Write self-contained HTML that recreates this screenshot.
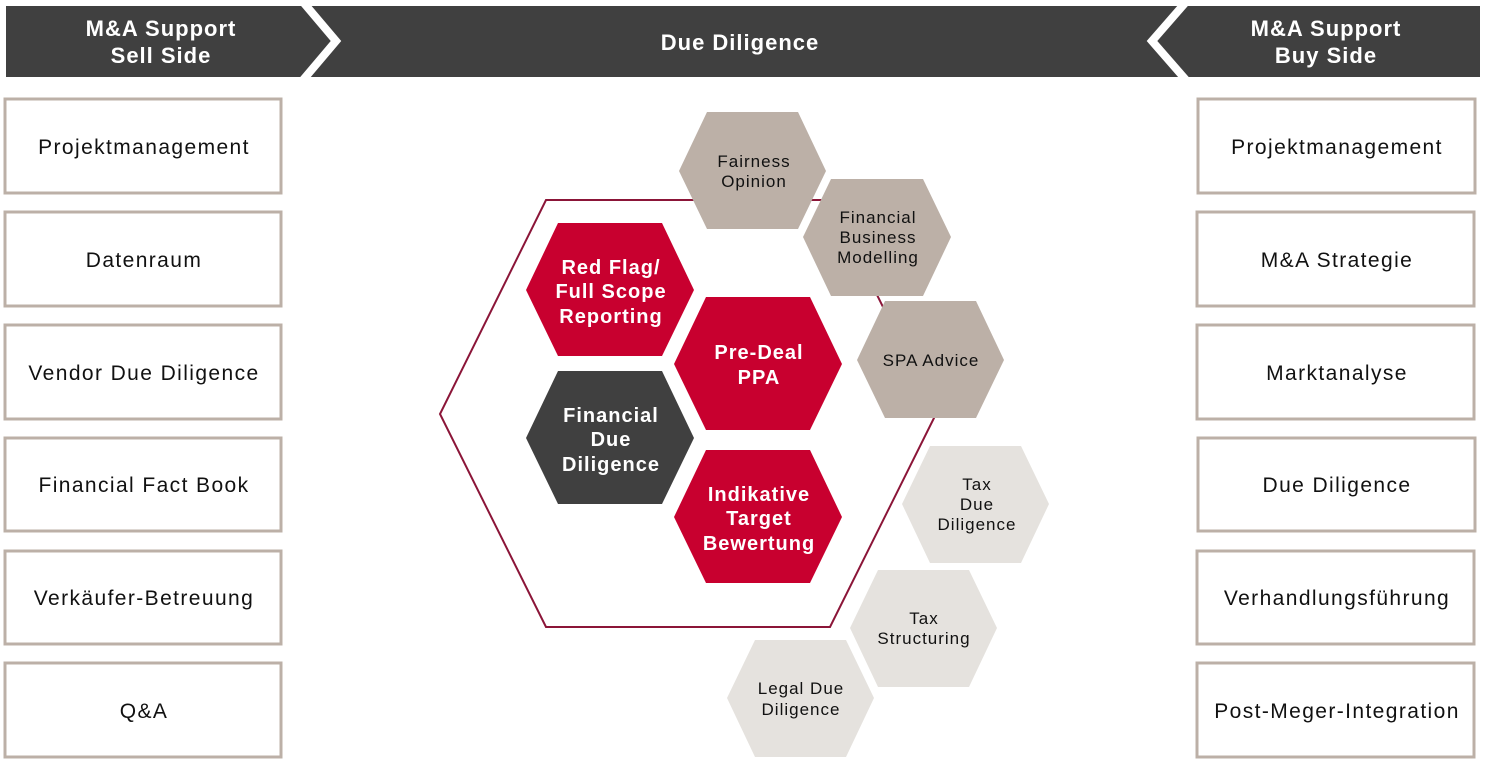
<!DOCTYPE html>
<html><head><meta charset="utf-8"><style>
html,body{margin:0;padding:0;background:#fff;}
svg{display:block;font-family:"Liberation Sans",sans-serif;}
</style></head><body>
<svg width="1486" height="759" viewBox="0 0 1486 759" xmlns="http://www.w3.org/2000/svg">
<rect x="6" y="6" width="1474" height="71" fill="#404040"/>
<polyline points="303,2 336,41 303,80" fill="none" stroke="#fff" stroke-width="8"/>
<polyline points="1186,2 1152,41 1186,80" fill="none" stroke="#fff" stroke-width="8"/>
<g fill="#fff" font-size="22" font-weight="bold" text-anchor="middle" letter-spacing="1">
<text x="161" y="36">M&amp;A Support</text><text x="161" y="63">Sell Side</text>
<text x="740" y="50">Due Diligence</text>
<text x="1326" y="36">M&amp;A Support</text><text x="1326" y="63">Buy Side</text>
</g>
<g fill="#fff" stroke="#bcb0a7" stroke-width="3">
<rect x="5" y="99" width="276" height="94"/>
<rect x="5" y="212" width="276" height="94"/>
<rect x="5" y="325" width="276" height="94"/>
<rect x="5" y="438" width="276" height="93"/>
<rect x="5" y="551" width="276" height="93"/>
<rect x="5" y="663" width="276" height="94"/>
<rect x="1198" y="99" width="277" height="94"/>
<rect x="1197" y="212" width="277" height="94"/>
<rect x="1197" y="325" width="277" height="94"/>
<rect x="1198" y="438" width="277" height="93"/>
<rect x="1197" y="551" width="277" height="93"/>
<rect x="1197" y="663" width="277" height="94"/>
</g>
<g fill="#111" font-size="21" text-anchor="middle" letter-spacing="1.4">
<text x="144" y="154">Projektmanagement</text>
<text x="144" y="267">Datenraum</text>
<text x="144" y="380">Vendor Due Diligence</text>
<text x="144" y="492">Financial Fact Book</text>
<text x="144" y="605">Verkäufer-Betreuung</text>
<text x="144" y="718">Q&amp;A</text>
<text x="1337" y="154">Projektmanagement</text>
<text x="1337" y="267">M&amp;A Strategie</text>
<text x="1337" y="380">Marktanalyse</text>
<text x="1337" y="492">Due Diligence</text>
<text x="1337" y="605">Verhandlungsführung</text>
<text x="1337" y="718">Post-Meger-Integration</text>
</g>
<polygon points="546,200 830,200 936,414 830,627 546,627 440,414" fill="none" stroke="#8b1538" stroke-width="2"/>
<g>
<polygon points="526,290 558,223 662,223 694,290 662,356 558,356" fill="#c8002f"/>
<polygon points="674,364 706,297 810,297 842,364 810,430 706,430" fill="#c8002f"/>
<polygon points="526,438 558,371 662,371 694,438 662,504 558,504" fill="#404040"/>
<polygon points="674,517 706,450 810,450 842,517 810,583 706,583" fill="#c8002f"/>
</g>
<g fill="#fff" font-size="20" font-weight="bold" text-anchor="middle" letter-spacing="1">
<text x="611" y="274">Red Flag/</text><text x="611" y="298">Full Scope</text><text x="611" y="323">Reporting</text>
<text x="759" y="359">Pre-Deal</text><text x="759" y="384">PPA</text>
<text x="611" y="422">Financial</text><text x="611" y="446">Due</text><text x="611" y="471">Diligence</text>
<text x="759" y="501">Indikative</text><text x="759" y="525">Target</text><text x="759" y="550">Bewertung</text>
</g>
<g fill="#bcb0a7">
<polygon points="679,171 707,112 798,112 826,171 798,229 707,229"/>
<polygon points="803,237 831,179 923,179 951,237 923,296 831,296"/>
<polygon points="857,360 885,301 976,301 1004,360 976,418 885,418"/>
</g>
<g fill="#e5e2de">
<polygon points="902,504 930,446 1021,446 1049,504 1021,563 930,563"/>
<polygon points="850,628 878,570 969,570 997,628 969,687 878,687"/>
<polygon points="727,698 755,640 846,640 874,698 846,757 755,757"/>
</g>
<g fill="#111" font-size="17" text-anchor="middle" letter-spacing="1">
<text x="754" y="167">Fairness</text><text x="754" y="187">Opinion</text>
<text x="878" y="223">Financial</text><text x="878" y="243">Business</text><text x="878" y="263">Modelling</text>
<text x="931" y="366">SPA Advice</text>
<text x="977" y="490">Tax</text><text x="977" y="510">Due</text><text x="977" y="530">Diligence</text>
<text x="924" y="624">Tax</text><text x="924" y="644">Structuring</text>
<text x="801" y="694">Legal Due</text><text x="801" y="715">Diligence</text>
</g>
</svg>
</body></html>
